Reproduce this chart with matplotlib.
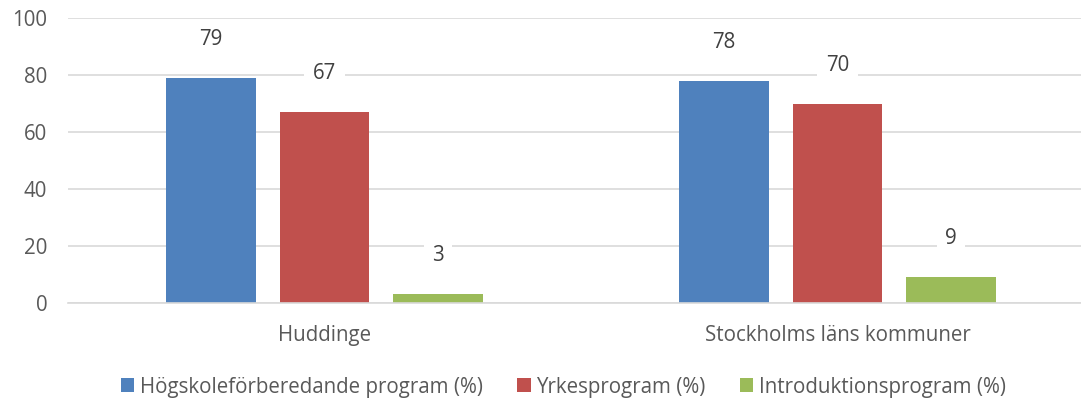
import numpy as np
import matplotlib
matplotlib.use("Agg")
import matplotlib.pyplot as plt

categories = ["Huddinge", "Stockholms läns kommuner"]
series_names = ["Högskoleförberedande program (%)", "Yrkesprogram (%)",
                "Introduktionsprogram (%)"]
hogskole = [79, 78]
yrkes = [67, 70]
intro = [3, 9]
colors = ["#4F81BD", "#C0504D", "#9BBB59"]

plt.rcParams["font.family"] = ["Open Sans", "DejaVu Sans"]
text_color = "#595959"
fs = 14.8

fig = plt.figure(figsize=(10.81, 4.01), dpi=100)
ax = fig.add_axes([68 / 1081, 1 - 303 / 401, 1 - 68 / 1081, 285 / 401])

x = np.arange(len(categories))
width = 0.175
step = 0.221
for i, (vals, name) in enumerate(zip([hogskole, yrkes, intro], series_names)):
    pos = x + (i - 1) * step
    ax.bar(pos, vals, width, color=colors[i], label=name, zorder=2)
    for p, v in zip(pos, vals):
        ax.text(p, v + 13.5, str(v), ha="center", va="center", fontsize=fs,
                color="#404040", zorder=3,
                bbox=dict(facecolor="white", edgecolor="none", pad=6))

ax.set_ylim(0, 100)
ax.set_xlim(-0.5, -0.5 + 1013 / 513)
ax.set_yticks(range(0, 101, 20))
ax.set_xticks(x)
ax.set_xticklabels(categories)
ax.yaxis.grid(True, color="#D9D9D9", linewidth=1.2, zorder=0)
ax.tick_params(axis="both", length=0, labelsize=fs, colors=text_color)
ax.tick_params(axis="y", pad=15)
ax.tick_params(axis="x", pad=16)
for s in ["top", "right", "left"]:
    ax.spines[s].set_visible(False)
ax.spines["bottom"].set_color("#D9D9D9")
ax.spines["bottom"].set_linewidth(1.2)

leg = fig.legend(loc="center", bbox_to_anchor=(0.521, 1 - 387 / 401), ncol=3,
                 frameon=False, fontsize=fs, handlelength=0.65, handleheight=0.65,
                 handletextpad=0.25, columnspacing=1.7)
for t in leg.get_texts():
    t.set_color(text_color)

fig.savefig("out.png", dpi=100)
